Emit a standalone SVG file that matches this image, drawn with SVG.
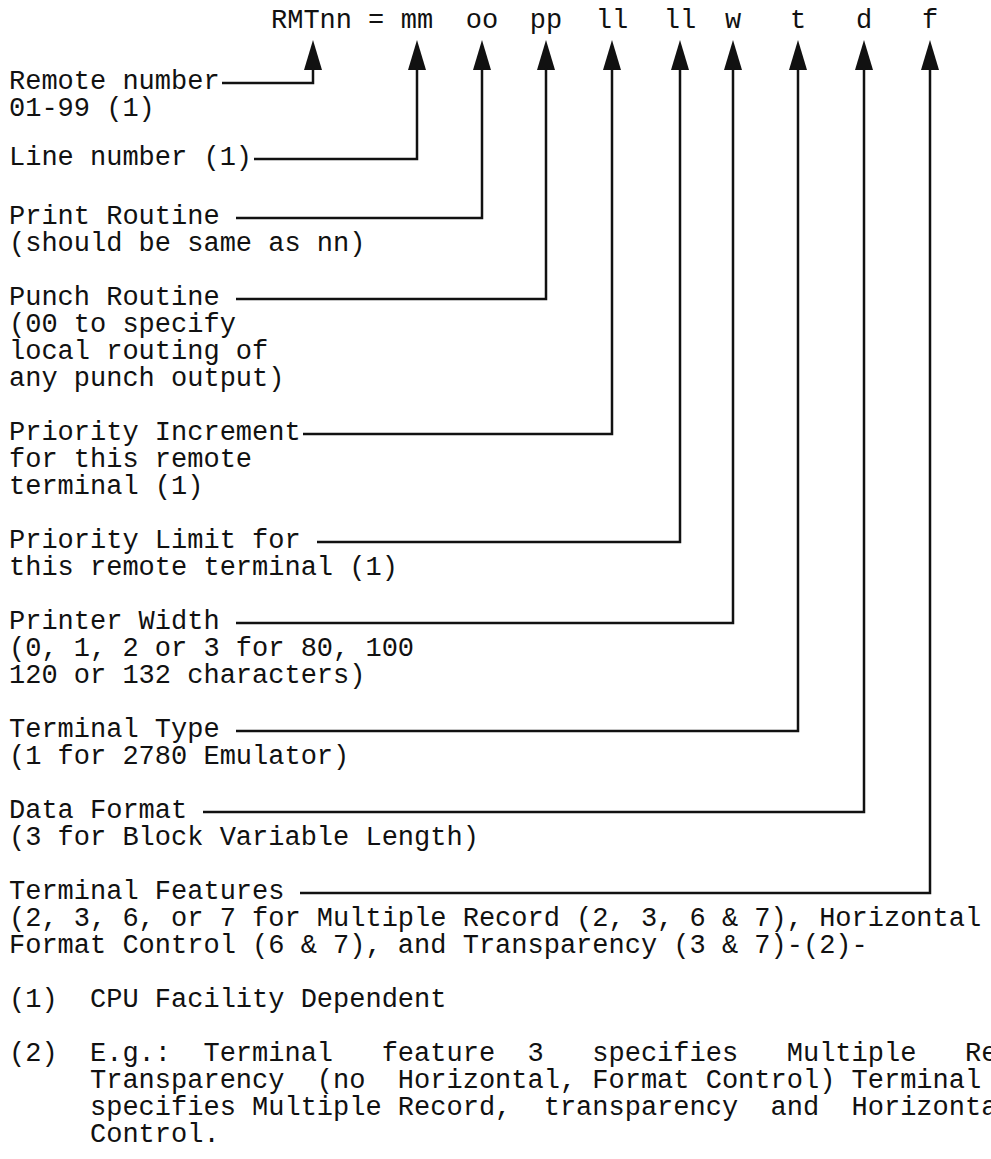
<svg xmlns="http://www.w3.org/2000/svg" width="991" height="1159" viewBox="0 0 991 1159">
<style>
text{font-family:"Liberation Mono","Courier New",monospace;font-size:27px;fill:#111;white-space:pre}
.c{text-anchor:middle}
.ln{fill:none;stroke:#111;stroke-width:2.5}
.ah{fill:#111}
</style>
<rect width="991" height="1159" fill="#fff"/>
<g id="header">
<text x="271" y="28">RMTnn</text>
<text class="c" x="376" y="28">=</text>
<text class="c" x="417" y="28">mm</text>
<text class="c" x="482" y="28">oo</text>
<text class="c" x="546" y="28">pp</text>
<text class="c" x="612" y="28">ll</text>
<text class="c" x="680" y="28">ll</text>
<text class="c" x="733" y="28">w</text>
<text class="c" x="798" y="28">t</text>
<text class="c" x="864" y="28">d</text>
<text class="c" x="930" y="28">f</text>
</g>
<g id="connectors">
<path class="ah" d="M313 40L304 70H322Z"/>
<path class="ah" d="M417 40L408 70H426Z"/>
<path class="ah" d="M482 40L473 70H491Z"/>
<path class="ah" d="M546 40L537 70H555Z"/>
<path class="ah" d="M612 40L603 70H621Z"/>
<path class="ah" d="M680 40L671 70H689Z"/>
<path class="ah" d="M733 40L724 70H742Z"/>
<path class="ah" d="M798 40L789 70H807Z"/>
<path class="ah" d="M864 40L855 70H873Z"/>
<path class="ah" d="M930 40L921 70H939Z"/>
<path class="ln" d="M222 83H313V68"/>
<path class="ln" d="M254 159H417V68"/>
<path class="ln" d="M236 218H482V68"/>
<path class="ln" d="M236 299H546V68"/>
<path class="ln" d="M303 434H612V68"/>
<path class="ln" d="M317 542H680V68"/>
<path class="ln" d="M236 623H733V68"/>
<path class="ln" d="M236 731H798V68"/>
<path class="ln" d="M203 812H864V68"/>
<path class="ln" d="M300 893H930V68"/>
</g>
<g id="remote"><text x="9" y="89">Remote number</text><text x="9" y="116">01-99 (1)</text></g>
<g id="line"><text x="9" y="165">Line number (1)</text></g>
<g id="print"><text x="9" y="224">Print Routine</text><text x="9" y="251">(should be same as nn)</text></g>
<g id="punch"><text x="9" y="305">Punch Routine</text><text x="9" y="332">(00 to specify</text><text x="9" y="359">local routing of</text><text x="9" y="386">any punch output)</text></g>
<g id="incr"><text x="9" y="440">Priority Increment</text><text x="9" y="467">for this remote</text><text x="9" y="494">terminal (1)</text></g>
<g id="limit"><text x="9" y="548">Priority Limit for</text><text x="9" y="575">this remote terminal (1)</text></g>
<g id="width"><text x="9" y="629">Printer Width</text><text x="9" y="656">(0, 1, 2 or 3 for 80, 100</text><text x="9" y="683">120 or 132 characters)</text></g>
<g id="type"><text x="9" y="737">Terminal Type</text><text x="9" y="764">(1 for 2780 Emulator)</text></g>
<g id="format"><text x="9" y="818">Data Format</text><text x="9" y="845">(3 for Block Variable Length)</text></g>
<g id="features"><text x="9" y="899">Terminal Features</text><text x="9" y="926">(2, 3, 6, or 7 for Multiple Record (2, 3, 6 &amp; 7), Horizontal</text><text x="9" y="953">Format Control (6 &amp; 7), and Transparency (3 &amp; 7)-(2)-</text></g>
<g id="notes">
<text x="9" y="1007">(1)  CPU Facility Dependent</text>
<text x="9" y="1061">(2)  E.g.:  Terminal   feature  3   specifies   Multiple   Rec</text>
<text x="9" y="1088">     Transparency  (no  Horizontal, Format Control) Terminal</text>
<text x="9" y="1115">     specifies Multiple Record,  transparency  and  Horizonta</text>
<text x="9" y="1142">     Control.</text>
</g>
</svg>
